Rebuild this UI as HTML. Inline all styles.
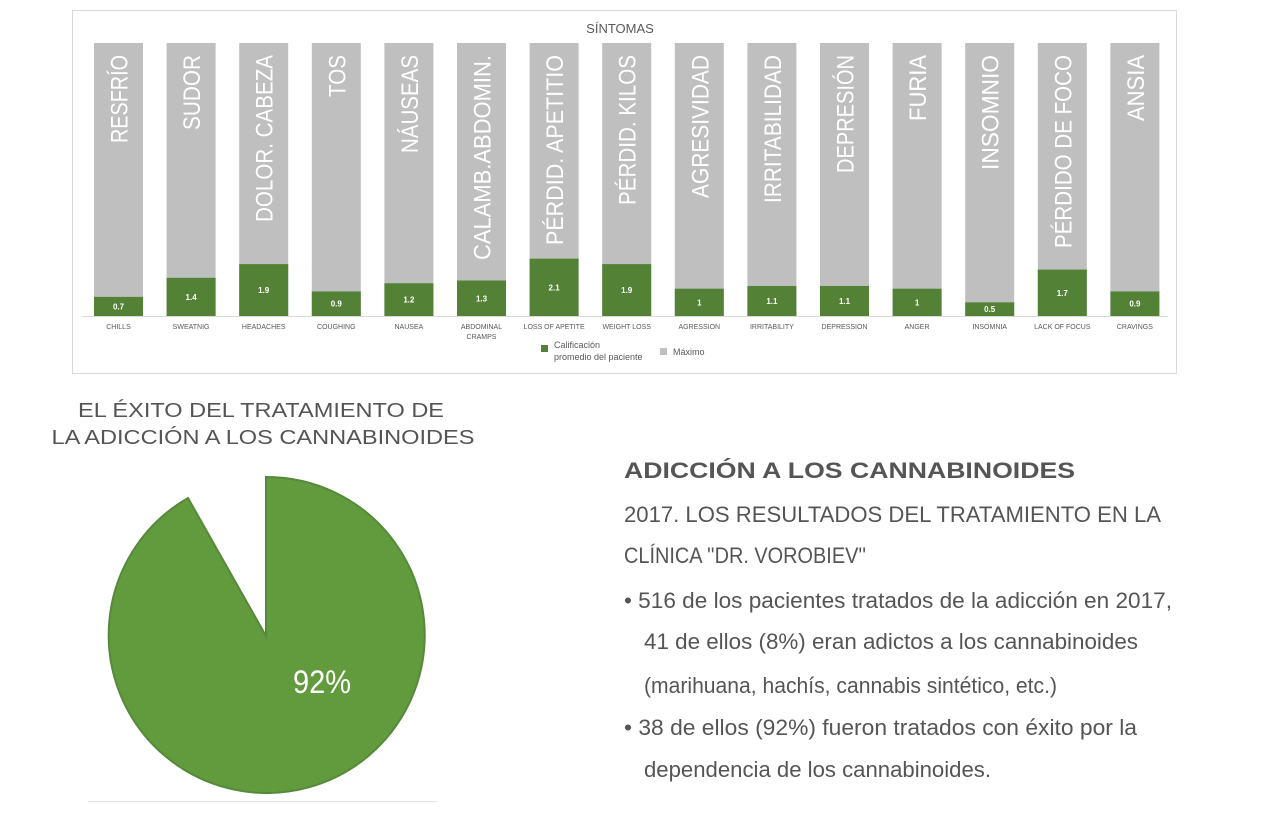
<!DOCTYPE html>
<html><head><meta charset="utf-8"><style>
body{margin:0;background:#fff;width:1280px;height:827px;overflow:hidden}
svg text{font-family:"Liberation Sans",sans-serif}
</style></head><body>
<svg width="1280" height="827" viewBox="0 0 1280 827" xmlns="http://www.w3.org/2000/svg">
<rect x="72.5" y="10.5" width="1104" height="363" fill="#fff" stroke="#d9d9d9"/>
<text x="620" y="33" font-size="13" fill="#595959" text-anchor="middle">SÍNTOMAS</text>
<line x1="82" y1="316.5" x2="1168" y2="316.5" stroke="#d9d9d9"/>
<g id="bars"></g>
<rect x="541" y="345" width="7" height="7" fill="#538135"/>
<text x="554" y="348" font-size="9" fill="#595959">Calificación</text>
<text x="554" y="360" font-size="9" fill="#595959">promedio del paciente</text>
<rect x="660" y="348" width="7" height="7" fill="#bfbfbf"/>
<text x="673" y="355" font-size="9" fill="#595959">Máximo</text>

<text x="261" y="417" font-size="20" fill="#555" text-anchor="middle" textLength="366" lengthAdjust="spacingAndGlyphs">EL ÉXITO DEL TRATAMIENTO DE</text>
<text x="263" y="444" font-size="20" fill="#555" text-anchor="middle" textLength="423" lengthAdjust="spacingAndGlyphs">LA ADICCIÓN A LOS CANNABINOIDES</text>

<path d="M266,636 L266,477 A158,158 0 1 1 188,498 Z" fill="#629a3e" stroke="#57893a" stroke-width="2"/>
<text x="322" y="693" font-size="32" fill="#fff" text-anchor="middle" textLength="58" lengthAdjust="spacingAndGlyphs">92%</text>
<line x1="88" y1="801.5" x2="437" y2="801.5" stroke="#e3e3e3"/>

<g fill="#555" font-size="22">
<text x="624" y="478" font-weight="bold" textLength="451" lengthAdjust="spacingAndGlyphs">ADICCIÓN A LOS CANNABINOIDES</text>
<text x="624" y="522" textLength="537" lengthAdjust="spacingAndGlyphs">2017. LOS RESULTADOS DEL TRATAMIENTO EN LA</text>
<text x="624" y="563" textLength="242" lengthAdjust="spacingAndGlyphs">CLÍNICA ''DR. VOROBIEV''</text>
<text x="624" y="608" textLength="548" lengthAdjust="spacingAndGlyphs">•  516 de los pacientes tratados de la adicción en 2017,</text>
<text x="644" y="649" textLength="494" lengthAdjust="spacingAndGlyphs">41 de ellos (8%) eran adictos a los cannabinoides</text>
<text x="644" y="693" textLength="413" lengthAdjust="spacingAndGlyphs">(marihuana, hachís, cannabis sintético, etc.)</text>
<text x="624" y="735" textLength="513" lengthAdjust="spacingAndGlyphs">•  38 de ellos (92%) fueron tratados con éxito por la</text>
<text x="644" y="777" textLength="347" lengthAdjust="spacingAndGlyphs">dependencia de los cannabinoides.</text>
</g>
</svg>
<script>
const d=[["RESFRÍO","CHILLS",0.7,88],["SUDOR","SWEATNIG",1.4,75],["DOLOR. CABEZA","HEADACHES",1.9,167],["TOS","COUGHING",0.9,42],["NÁUSEAS","NAUSEA",1.2,98],["CALAMB.ABDOMIN.","ABDOMINAL|CRAMPS",1.3,205],["PÉRDID. APETITIO","LOSS OF APETITE",2.1,190],["PÉRDID. KILOS","WEIGHT LOSS",1.9,150],["AGRESIVIDAD","AGRESSION",1,143],["IRRITABILIDAD","IRRITABILITY",1.1,148],["DEPRESIÓN","DEPRESSION",1.1,118],["FURIA","ANGER",1,66],["INSOMNIO","INSOMNIA",0.5,115],["PÉRDIDO DE FOCO","LACK OF FOCUS",1.7,193],["ANSIA","CRAVINGS",0.9,66]];
let s="";
d.forEach((r,i)=>{const x=94+i*72.6,w=49,cx=x+w/2,h=r[2]*27.3;
s+=`<rect x="${x}" y="43" width="${w}" height="273" fill="#bfbfbf"/>`;
s+=`<rect x="${x}" y="${316-h}" width="${w}" height="${h}" fill="#538135"/>`;
s+=`<text x="${cx}" y="${316-h/2+3}" font-size="8" font-weight="bold" fill="#fff" text-anchor="middle">${r[2]}</text>`;
s+=`<text transform="translate(${cx+9},55) rotate(-90)" font-size="24" fill="#fff" text-anchor="end" textLength="${r[3]}" lengthAdjust="spacingAndGlyphs">${r[0]}</text>`;
r[1].split("|").forEach((l,j)=>{s+=`<text x="${cx}" y="${329+j*10}" font-size="7" fill="#595959" text-anchor="middle">${l}</text>`});
});
document.getElementById("bars").innerHTML=s;
</script>
</body></html>
